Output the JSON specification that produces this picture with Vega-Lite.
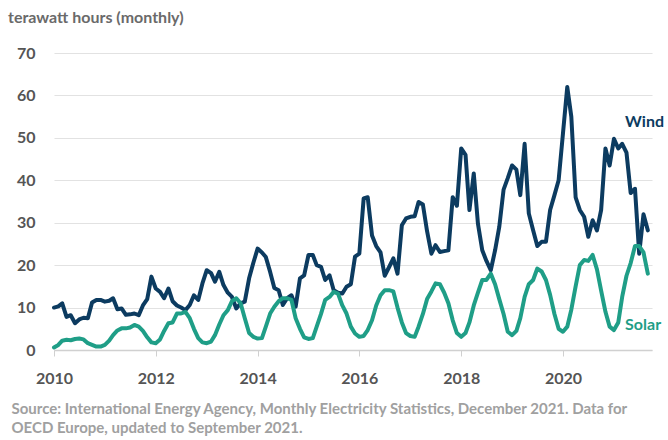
{
  "$schema": "https://vega.github.io/schema/vega-lite/v6.json",
  "width": 598,
  "height": 297,
  "autosize": {"type": "none"},
  "padding": {"left": 54, "top": 53, "right": 16, "bottom": 90},
  "background": "white",
  "title": {
    "text": "terawatt hours (monthly)",
    "anchor": "start",
    "frame": "group",
    "dx": -46,
    "offset": 19,
    "font": "Lato",
    "fontSize": 16,
    "fontWeight": "bold",
    "color": "#6a6a6a"
  },
  "config": {
    "view": {"stroke": null},
    "font": "Lato"
  },
  "datasets": {
    "monthly": [
      {"date":"2010-01-01","Wind":10,"Solar":0.6},{"date":"2010-02-01","Wind":10.3,"Solar":1.2},{"date":"2010-03-01","Wind":11,"Solar":2.2},{"date":"2010-04-01","Wind":7.8,"Solar":2.4},{"date":"2010-05-01","Wind":8.2,"Solar":2.3},{"date":"2010-06-01","Wind":6.3,"Solar":2.6},{"date":"2010-07-01","Wind":7.2,"Solar":2.7},{"date":"2010-08-01","Wind":7.6,"Solar":2.5},{"date":"2010-09-01","Wind":7.5,"Solar":1.6},{"date":"2010-10-01","Wind":11.2,"Solar":1.2},{"date":"2010-11-01","Wind":11.8,"Solar":0.8},{"date":"2010-12-01","Wind":11.8,"Solar":0.8},
      {"date":"2011-01-01","Wind":11.4,"Solar":1.2},{"date":"2011-02-01","Wind":11.6,"Solar":2.2},{"date":"2011-03-01","Wind":12.2,"Solar":3.5},{"date":"2011-04-01","Wind":9.6,"Solar":4.6},{"date":"2011-05-01","Wind":9.8,"Solar":5.1},{"date":"2011-06-01","Wind":8.3,"Solar":5.1},{"date":"2011-07-01","Wind":8.4,"Solar":5.3},{"date":"2011-08-01","Wind":8.6,"Solar":5.9},{"date":"2011-09-01","Wind":8.2,"Solar":5.5},{"date":"2011-10-01","Wind":10.5,"Solar":4.5},{"date":"2011-11-01","Wind":12,"Solar":3.0},{"date":"2011-12-01","Wind":17.3,"Solar":1.8},
      {"date":"2012-01-01","Wind":14.5,"Solar":1.6},{"date":"2012-02-01","Wind":13.7,"Solar":2.5},{"date":"2012-03-01","Wind":12.2,"Solar":4.5},{"date":"2012-04-01","Wind":14.5,"Solar":6.3},{"date":"2012-05-01","Wind":11.5,"Solar":6.5},{"date":"2012-06-01","Wind":10.5,"Solar":8.6},{"date":"2012-07-01","Wind":10,"Solar":8.6},{"date":"2012-08-01","Wind":9.4,"Solar":9.0},{"date":"2012-09-01","Wind":10.6,"Solar":7.5},{"date":"2012-10-01","Wind":12.9,"Solar":5.0},{"date":"2012-11-01","Wind":11.8,"Solar":2.8},{"date":"2012-12-01","Wind":15.7,"Solar":1.8},
      {"date":"2013-01-01","Wind":18.8,"Solar":1.6},{"date":"2013-02-01","Wind":18.1,"Solar":2.0},{"date":"2013-03-01","Wind":16.1,"Solar":3.5},{"date":"2013-04-01","Wind":18.4,"Solar":6.0},{"date":"2013-05-01","Wind":15.3,"Solar":8.2},{"date":"2013-06-01","Wind":13.5,"Solar":9.4},{"date":"2013-07-01","Wind":12.5,"Solar":11.5},{"date":"2013-08-01","Wind":9.8,"Solar":12.2},{"date":"2013-09-01","Wind":11,"Solar":11.0},{"date":"2013-10-01","Wind":11.4,"Solar":7.5},{"date":"2013-11-01","Wind":16.9,"Solar":4.0},{"date":"2013-12-01","Wind":20.5,"Solar":3.1},
      {"date":"2014-01-01","Wind":23.9,"Solar":2.7},{"date":"2014-02-01","Wind":23,"Solar":2.8},{"date":"2014-03-01","Wind":21.9,"Solar":5.5},{"date":"2014-04-01","Wind":18.4,"Solar":8.6},{"date":"2014-05-01","Wind":14.6,"Solar":10.2},{"date":"2014-06-01","Wind":14.1,"Solar":11.5},{"date":"2014-07-01","Wind":10.6,"Solar":12.2},{"date":"2014-08-01","Wind":12.2,"Solar":12.2},{"date":"2014-09-01","Wind":12.9,"Solar":11.8},{"date":"2014-10-01","Wind":10.2,"Solar":7.5},{"date":"2014-11-01","Wind":16.9,"Solar":5.0},{"date":"2014-12-01","Wind":17.6,"Solar":3.0},
      {"date":"2015-01-01","Wind":22.4,"Solar":2.6},{"date":"2015-02-01","Wind":22.4,"Solar":2.8},{"date":"2015-03-01","Wind":20,"Solar":5.5},{"date":"2015-04-01","Wind":19.6,"Solar":8.5},{"date":"2015-05-01","Wind":16.5,"Solar":11.8},{"date":"2015-06-01","Wind":17.6,"Solar":12.5},{"date":"2015-07-01","Wind":14.1,"Solar":13.7},{"date":"2015-08-01","Wind":13.5,"Solar":13.3},{"date":"2015-09-01","Wind":13.3,"Solar":10.5},{"date":"2015-10-01","Wind":14.9,"Solar":8.6},{"date":"2015-11-01","Wind":15.5,"Solar":5.5},{"date":"2015-12-01","Wind":22,"Solar":3.9},
      {"date":"2016-01-01","Wind":22.7,"Solar":3.1},{"date":"2016-02-01","Wind":35.7,"Solar":3.3},{"date":"2016-03-01","Wind":36,"Solar":4.7},{"date":"2016-04-01","Wind":27,"Solar":7.0},{"date":"2016-05-01","Wind":24.5,"Solar":10.5},{"date":"2016-06-01","Wind":23,"Solar":12.9},{"date":"2016-07-01","Wind":17.5,"Solar":14.1},{"date":"2016-08-01","Wind":19.5,"Solar":14.1},{"date":"2016-09-01","Wind":21.6,"Solar":13.8},{"date":"2016-10-01","Wind":18,"Solar":10},{"date":"2016-11-01","Wind":29.4,"Solar":6.5},{"date":"2016-12-01","Wind":31,"Solar":4.0},
      {"date":"2017-01-01","Wind":31.4,"Solar":3.3},{"date":"2017-02-01","Wind":31.5,"Solar":3.1},{"date":"2017-03-01","Wind":34.9,"Solar":5.5},{"date":"2017-04-01","Wind":34.3,"Solar":8.5},{"date":"2017-05-01","Wind":28,"Solar":12},{"date":"2017-06-01","Wind":22.7,"Solar":13.8},{"date":"2017-07-01","Wind":24.7,"Solar":15.7},{"date":"2017-08-01","Wind":23.1,"Solar":15.5},{"date":"2017-09-01","Wind":23.3,"Solar":13.5},{"date":"2017-10-01","Wind":23.5,"Solar":11},{"date":"2017-11-01","Wind":36,"Solar":7},{"date":"2017-12-01","Wind":34,"Solar":4.0},
      {"date":"2018-01-01","Wind":47.5,"Solar":3.1},{"date":"2018-02-01","Wind":46,"Solar":4.0},{"date":"2018-03-01","Wind":33,"Solar":6.5},{"date":"2018-04-01","Wind":41.6,"Solar":10.5},{"date":"2018-05-01","Wind":29.8,"Solar":13.5},{"date":"2018-06-01","Wind":23.5,"Solar":16.5},{"date":"2018-07-01","Wind":21,"Solar":16.5},{"date":"2018-08-01","Wind":18.8,"Solar":18},{"date":"2018-09-01","Wind":23.5,"Solar":15.5},{"date":"2018-10-01","Wind":29,"Solar":12},{"date":"2018-11-01","Wind":37.8,"Solar":8.5},{"date":"2018-12-01","Wind":40.5,"Solar":4.3},
      {"date":"2019-01-01","Wind":43.5,"Solar":3.5},{"date":"2019-02-01","Wind":42.5,"Solar":4.5},{"date":"2019-03-01","Wind":36.5,"Solar":7.5},{"date":"2019-04-01","Wind":48.6,"Solar":12.5},{"date":"2019-05-01","Wind":32.2,"Solar":15.5},{"date":"2019-06-01","Wind":28.2,"Solar":16.5},{"date":"2019-07-01","Wind":24.5,"Solar":19.2},{"date":"2019-08-01","Wind":25.5,"Solar":18.5},{"date":"2019-09-01","Wind":25.5,"Solar":16.5},{"date":"2019-10-01","Wind":33,"Solar":13},{"date":"2019-11-01","Wind":36.5,"Solar":8.5},{"date":"2019-12-01","Wind":40,"Solar":5},
      {"date":"2020-01-01","Wind":51,"Solar":4.3},{"date":"2020-02-01","Wind":62,"Solar":5.5},{"date":"2020-03-01","Wind":55,"Solar":9.5},{"date":"2020-04-01","Wind":36,"Solar":15},{"date":"2020-05-01","Wind":33,"Solar":20},{"date":"2020-06-01","Wind":31.4,"Solar":21.2},{"date":"2020-07-01","Wind":26.7,"Solar":21},{"date":"2020-08-01","Wind":30.6,"Solar":22.4},{"date":"2020-09-01","Wind":28.2,"Solar":19},{"date":"2020-10-01","Wind":33,"Solar":14},{"date":"2020-11-01","Wind":47.5,"Solar":9},{"date":"2020-12-01","Wind":43.5,"Solar":5.5},
      {"date":"2021-01-01","Wind":49.8,"Solar":4.7},{"date":"2021-02-01","Wind":47.5,"Solar":6.5},{"date":"2021-03-01","Wind":48.6,"Solar":12.5},{"date":"2021-04-01","Wind":46.5,"Solar":17.5},{"date":"2021-05-01","Wind":37,"Solar":20.5},{"date":"2021-06-01","Wind":38,"Solar":24.5},{"date":"2021-07-01","Wind":22.7,"Solar":24.5},{"date":"2021-08-01","Wind":32,"Solar":23},{"date":"2021-09-01","Wind":28.2,"Solar":18}
    ],
    "labels": [
      {"date":"2021-03-22","value":53.8,"series":"Wind"},
      {"date":"2021-03-22","value":6.0,"series":"Solar"}
    ]
  },
  "layer": [
    {
      "data": {"name": "monthly"},
      "transform": [{"fold": ["Wind", "Solar"], "as": ["series", "value"]}],
      "mark": {"type": "line", "strokeWidth": 4, "strokeJoin": "round", "strokeCap": "round", "clip": false},
      "encoding": {
        "x": {
          "field": "date",
          "type": "temporal",
          "scale": {"type": "utc", "domain": [{"year": 2010, "month": 1, "date": 1, "utc": true}, {"year": 2021, "month": 10, "date": 1, "utc": true}]},
          "axis": {
            "values": [
              {"year": 2010, "month": 1, "date": 1, "utc": true},
              {"year": 2012, "month": 1, "date": 1, "utc": true},
              {"year": 2014, "month": 1, "date": 1, "utc": true},
              {"year": 2016, "month": 1, "date": 1, "utc": true},
              {"year": 2018, "month": 1, "date": 1, "utc": true},
              {"year": 2020, "month": 1, "date": 1, "utc": true}
            ],
            "format": "%Y",
            "formatType": "utc",
            "grid": false,
            "domain": true,
            "domainColor": "#d0d0d0",
            "domainWidth": 1.5,
            "ticks": true,
            "tickColor": "#d0d0d0",
            "tickSize": 6,
            "labelPadding": 14,
            "labelFont": "Lato",
            "labelFontSize": 16,
            "labelFontWeight": "bold",
            "labelColor": "#555555",
            "labelFlush": false,
            "title": ["Source: International Energy Agency, Monthly Electricity Statistics, December 2021. Data for", "OECD Europe, updated to September 2021."],
            "titleAnchor": "start",
            "titleAlign": "left",
            "titleBaseline": "top",
            "titleX": -43,
            "titleY": 51,
            "titleFont": "Lato",
            "titleFontSize": 15,
            "titleFontWeight": "bold",
            "titleColor": "#a0a0a0",
            "titleLineHeight": 19
          }
        },
        "y": {
          "field": "value",
          "type": "quantitative",
          "scale": {"domain": [0, 70], "nice": false},
          "axis": {
            "values": [0, 10, 20, 30, 40, 50, 60, 70],
            "title": null,
            "domain": false,
            "ticks": false,
            "grid": true,
            "gridColor": "#e2e2e2",
            "gridWidth": 1.2,
            "labelPadding": 19,
            "labelFont": "Lato",
            "labelFontSize": 16,
            "labelFontWeight": "bold",
            "labelColor": "#555555"
          }
        },
        "color": {
          "field": "series",
          "type": "nominal",
          "scale": {"domain": ["Wind", "Solar"], "range": ["#0c3b60", "#1f9e87"]},
          "legend": null
        }
      }
    },
    {
      "data": {"name": "labels"},
      "mark": {"type": "text", "align": "left", "baseline": "middle", "font": "Lato", "fontSize": 16, "fontWeight": "bold", "clip": false},
      "encoding": {
        "x": {"field": "date", "type": "temporal"},
        "y": {"field": "value", "type": "quantitative"},
        "text": {"field": "series"},
        "color": {"field": "series", "type": "nominal"}
      }
    }
  ]
}
